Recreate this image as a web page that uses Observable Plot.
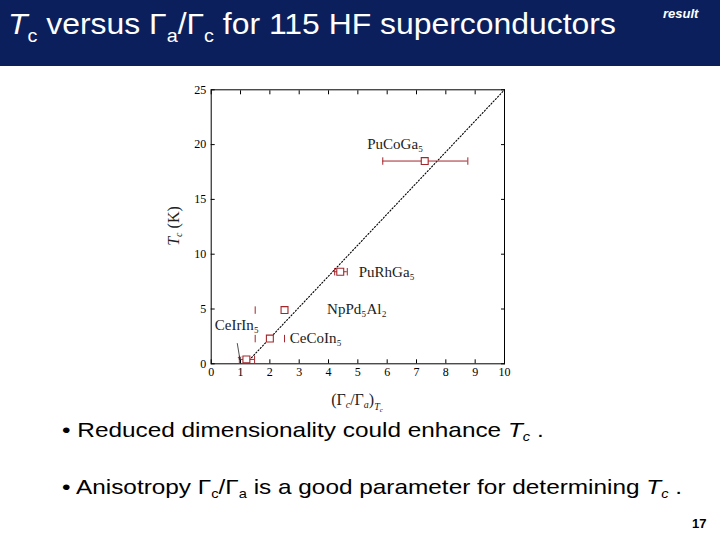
<!DOCTYPE html>
<html>
<head>
<meta charset="utf-8">
<script src="https://cdn.jsdelivr.net/npm/d3@7"></script>
<script src="https://cdn.jsdelivr.net/npm/@observablehq/plot@0.6"></script>
<style>
  html, body { margin: 0; padding: 0; }
  body { width: 720px; height: 540px; position: relative; overflow: hidden; background: #fff; font-family: "Liberation Sans", Arial, sans-serif; }
  #header { position: absolute; left: 0; top: 0; width: 720px; height: 66px; background: #0b1f5c; }
  #title { position: absolute; left: 8px; top: 7.5px; color: #fff; font-size: 29px; white-space: nowrap; transform: scaleX(1.1); transform-origin: left; }
  .sub { font-size: 0.62em; position: relative; top: 0.5em; }
  #tag { position: absolute; left: 663px; top: 6px; color: #fff; font-size: 13px; font-style: italic; font-weight: bold; }
  #chart { position: absolute; left: 160px; top: 80px; }
  .bullet { position: absolute; left: 62px; font-size: 21px; color: #000; white-space: nowrap; transform: scaleX(1.16); transform-origin: left; }
  .bsub { font-size: 0.6em; position: relative; top: 0.35em; }
  #page { position: absolute; left: 692px; top: 516px; font-size: 13px; font-weight: bold; color: #000; }
</style>
</head>
<body>
<div id="header">
  <div id="title"><i>T</i><span class="sub">c</span> versus Γ<span class="sub">a</span>/Γ<span class="sub">c</span> for 115 HF superconductors</div>
  <div id="tag">result</div>
</div>
<div id="chart"></div>
<div class="bullet" style="top:417.5px">• Reduced dimensionality could enhance <i>T</i><span class="bsub"><i>c</i></span> .</div>
<div class="bullet" style="top:474.5px">• Anisotropy Γ<span class="bsub">c</span>/Γ<span class="bsub">a</span> is a good parameter for determining <i>T</i><span class="bsub"><i>c</i></span> .</div>
<div id="page">17</div>
<script>
// Data
const compounds = ["CeIrIn₅", "CeCoIn₅", "NpPd₅Al₂", "PuRhGa₅", "PuCoGa₅"];
const anisotropy = [1.2, 2.0, 2.5, 4.4, 7.28];   // (Γc/Γa) at Tc
const tc = [0.4, 2.3, 4.9, 8.4, 18.5];           // Tc (K)
const errLow = [0.96, 1.5, 1.5, 4.21, 5.85];
const errHigh = [1.48, 2.5, null, 4.64, 8.75];
const barShown = [true, false, false, true, true];
const labelX = [0.12, 2.68, 3.95, 5.03, 5.32];
const labelY = [3.5, 2.3, 4.95, 8.4, 20.0];
const fitX = [1.3, 10];
const fitY = [0.35, 25];
const arrowFrom = [0.89, 1.85];
const arrowTo = [0.98, 0.4];
const xTicks = [0,1,2,3,4,5,6,7,8,9,10];
const yTicks = [0,5,10,15,20,25];

const pts = compounds.map((c, i) => ({c, x: anisotropy[i], y: tc[i], lo: errLow[i], hi: errHigh[i], bar: barShown[i], lx: labelX[i], ly: labelY[i]}));
const caps = [];
pts.forEach(p => { if (p.lo != null) caps.push({x: p.lo, y: p.y}); if (p.hi != null) caps.push({x: p.hi, y: p.y}); });
const fit = fitX.map((x, i) => ({x, y: fitY[i]}));

const red = "#a3262b";
const vline = { draw(ctx, size) { const h = Math.sqrt(size) / 2; ctx.moveTo(0, -h); ctx.lineTo(0, h); } };

const chart = Plot.plot({
  width: 360, height: 340,
  marginLeft: 50.7, marginRight: 16, marginTop: 9.3, marginBottom: 56.7,
  x: { domain: [0, 10], label: null },
  y: { domain: [0, 25], label: null },
  style: { fontFamily: "Liberation Serif, DejaVu Serif, serif", fontSize: "12px", background: "transparent", color: "#000" },
  marks: [
    Plot.frame({ stroke: "#000", strokeWidth: 1 }),
    Plot.axisX({ ticks: xTicks, tickSize: -4, tickPadding: 8, label: null }),
    Plot.axisX({ anchor: "top", ticks: xTicks, tickSize: -4, tickFormat: () => "", label: null }),
    Plot.axisY({ ticks: yTicks, tickSize: -4, tickPadding: 9, label: null }),
    Plot.axisY({ anchor: "right", ticks: yTicks, tickSize: -4, tickFormat: () => "", label: null }),
    Plot.line(fit, { x: "x", y: "y", stroke: "#000", strokeWidth: 1.1, strokeDasharray: "1.2,2" }),
    Plot.ruleY(pts.filter(p => p.bar), { y: "y", x1: "lo", x2: "hi", stroke: red, strokeWidth: 1 }),
    Plot.dot(caps, { x: "x", y: "y", symbol: vline, r: 4.2, stroke: red, strokeWidth: 1 }),
    Plot.dot(pts, { x: "x", y: "y", symbol: "square", r: 3.9, stroke: red, fill: "#fff", strokeWidth: 1.1 }),
    Plot.arrow([{x1: arrowFrom[0], y1: arrowFrom[1], x2: arrowTo[0], y2: arrowTo[1]}], { x1: "x1", y1: "y1", x2: "x2", y2: "y2", stroke: "#222", strokeWidth: 0.8, headLength: 5 }),
    Plot.text(pts, { x: "lx", y: "ly", text: "c", textAnchor: "start", fontSize: 15, fill: "#222" })
  ]
});
document.getElementById("chart").appendChild(chart);

// axis titles with sub/italic parts
const svg = d3.select(chart);
const yl = svg.append("text")
  .attr("transform", "translate(19,146) rotate(-90)")
  .attr("text-anchor", "middle")
  .attr("font-family", "Liberation Serif, serif").attr("font-size", 16).attr("fill", "#222");
yl.append("tspan").attr("font-style", "italic").text("T");
yl.append("tspan").attr("font-style", "italic").attr("font-size", 10).attr("dy", 3).text("c");
yl.append("tspan").attr("dy", -3).text(" (K)");

const xl = svg.append("text")
  .attr("x", 197).attr("y", 325)
  .attr("text-anchor", "middle")
  .attr("font-family", "Liberation Serif, serif").attr("font-size", 16).attr("fill", "#222");
xl.append("tspan").text("(Γ");
xl.append("tspan").attr("font-style", "italic").attr("font-size", 10).attr("dy", 3).text("c");
xl.append("tspan").attr("dy", -3).text("/Γ");
xl.append("tspan").attr("font-style", "italic").attr("font-size", 10).attr("dy", 3).text("a");
xl.append("tspan").attr("dy", -3).text(")");
xl.append("tspan").attr("font-style", "italic").attr("font-size", 10).attr("dy", 5).text("T");
xl.append("tspan").attr("font-style", "italic").attr("font-size", 7).attr("dy", 2).text("c");
</script>
</body>
</html>
